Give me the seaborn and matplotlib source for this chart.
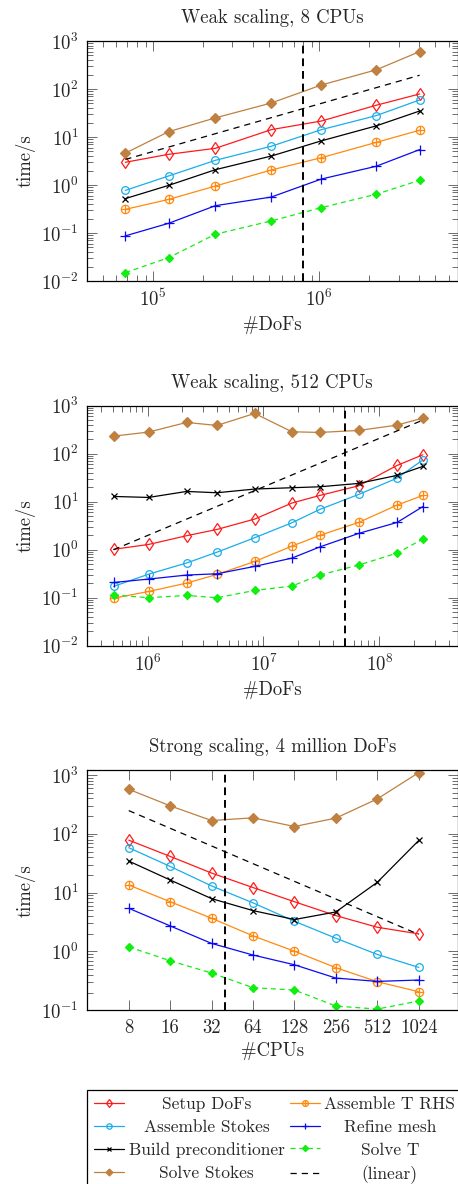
import matplotlib
matplotlib.use("Agg")
import numpy as np
import pandas as pd
import matplotlib.pyplot as plt
import seaborn as sns
from matplotlib.path import Path
from matplotlib.ticker import NullFormatter, NullLocator

# ------------------------------
# Data
# ------------------------------
series = ["Setup DoFs", "Assemble Stokes", "Build preconditioner", "Solve Stokes",
          "Assemble T RHS", "Refine mesh", "Solve T"]

# Weak scaling, 8 CPUs
w8_dofs = [6.8e4, 1.24e5, 2.37e5, 5.14e5, 1.03e6, 2.2e6, 4.02e6]
w8_setup = [2.97, 4.35, 5.8, 14.2, 21.5, 45.7, 78.7]
w8_asm_stokes = [0.77, 1.54, 3.26, 6.4, 14.2, 27.8, 59]
w8_precond = [0.52, 0.98, 2.08, 4.0, 8.3, 17, 34.7]
w8_solve_stokes = [4.6, 12.9, 25, 51, 121, 250, 600]
w8_asm_rhs = [0.31, 0.50, 0.95, 2.05, 3.7, 7.7, 13.8]
w8_refine = [0.087, 0.159, 0.37, 0.56, 1.33, 2.45, 5.45]
w8_solve_t = [0.0149, 0.0306, 0.094, 0.178, 0.337, 0.64, 1.25]
w8_linear_x = [6.8e4, 4.02e6]
w8_linear_t = [3.4, 193]
w8_mark = 8.0e5

# Weak scaling, 512 CPUs
w512_dofs = [5.08e5, 1.02e6, 2.17e6, 3.97e6, 8.4e6, 1.76e7, 3.05e7, 6.63e7, 1.42e8, 2.37e8]
w512_setup = [1.02, 1.29, 1.96, 2.65, 4.36, 9.4, 13.5, 21.5, 57, 95]
w512_asm_stokes = [0.172, 0.31, 0.53, 0.89, 1.78, 3.65, 6.9, 14.2, 31, 74]
w512_precond = [12.9, 12.3, 16.4, 15.4, 18.4, 19.6, 20.5, 24.1, 35.4, 54.5]
w512_solve_stokes = [233, 283, 449, 389, 692, 287, 278, 306, 395, 553]
w512_asm_rhs = [0.098, 0.135, 0.202, 0.306, 0.57, 1.19, 1.99, 3.71, 8.5, 13.5]
w512_refine = [0.208, 0.245, 0.297, 0.316, 0.45, 0.67, 1.14, 2.19, 3.7, 7.9]
w512_solve_t = [0.115, 0.10, 0.112, 0.10, 0.142, 0.175, 0.297, 0.48, 0.85, 1.67]
w512_linear_x = [5.08e5, 2.37e8]
w512_linear_t = [1.0, 502]
w512_mark = 5.1e7

# Strong scaling, 4 million DoFs
s_cpus = [8, 16, 32, 64, 128, 256, 512, 1024]
s_setup = [78, 41.3, 21.5, 12.2, 7.0, 4.07, 2.58, 1.99]
s_asm_stokes = [58, 27.9, 13, 6.7, 3.26, 1.68, 0.89, 0.536]
s_precond = [34.4, 16.4, 7.9, 4.95, 3.49, 4.7, 15, 77]
s_solve_stokes = [571, 299, 168, 187, 133, 185, 392, 1097]
s_asm_rhs = [13.5, 7.0, 3.67, 1.84, 1.01, 0.53, 0.306, 0.207]
s_refine = [5.42, 2.72, 1.37, 0.87, 0.594, 0.353, 0.31, 0.327]
s_solve_t = [1.2, 0.695, 0.43, 0.242, 0.221, 0.118, 0.105, 0.144]
s_linear_x = [8, 1024]
s_linear_t = [248, 1.95]
s_mark = 40

# ------------------------------
# Styles
# ------------------------------
sns.set_theme(style="ticks")
plt.rcParams.update({
    "font.family": "serif",
    "font.serif": ["cmr10"],
    "mathtext.fontset": "cm",
    "axes.formatter.use_mathtext": True,
    "axes.unicode_minus": False,
    "font.size": 13.5,
})

# circle with a plus inside (pgfplots "oplus")
circ = Path.unit_circle()
plus = Path([(-1, 0), (1, 0), (0, -1), (0, 1)],
            [Path.MOVETO, Path.LINETO, Path.MOVETO, Path.LINETO])
oplus = Path.make_compound_path(circ, plus)

styles = {
    "Setup DoFs": dict(color="#FF1A1A", marker="d", markersize=6.5, markerfacecolor="none"),
    "Assemble Stokes": dict(color="#19AEEA", marker="o", markersize=5.5, markerfacecolor="none"),
    "Build preconditioner": dict(color="black", marker="x", markersize=4.5),
    "Solve Stokes": dict(color="#BF8040", marker="D", markersize=5),
    "Assemble T RHS": dict(color="#FF8A10", marker=oplus, markersize=6, markerfacecolor="none"),
    "Refine mesh": dict(color="#0A0AF0", marker="+", markersize=6.5),
    "Solve T": dict(color="#11EE11", marker="D", markersize=4.5, linestyle=(0, (4, 3))),
}

panels = [
    ("Weak scaling, 8 CPUs", "#DoFs", w8_dofs,
     [w8_setup, w8_asm_stokes, w8_precond, w8_solve_stokes, w8_asm_rhs, w8_refine, w8_solve_t],
     w8_linear_x, w8_linear_t, w8_mark, (4.0e4, 6.8e6), (1e-2, 1e3)),
    ("Weak scaling, 512 CPUs", "#DoFs", w512_dofs,
     [w512_setup, w512_asm_stokes, w512_precond, w512_solve_stokes, w512_asm_rhs, w512_refine, w512_solve_t],
     w512_linear_x, w512_linear_t, w512_mark, (3.0e5, 4.73e8), (1e-2, 1e3)),
    ("Strong scaling, 4 million DoFs", "#CPUs", s_cpus,
     [s_setup, s_asm_stokes, s_precond, s_solve_stokes, s_asm_rhs, s_refine, s_solve_t],
     s_linear_x, s_linear_t, s_mark, (3.98, 1960), (0.1, 1.2e3)),
]

fig = plt.figure(figsize=(4.58, 11.84), dpi=100)
bottoms = [0.7627, 0.4546, 0.1467]

for i, (title, xlabel, xs, ys_list, lx, lt, mark, xlim, ylim) in enumerate(panels):
    ax = fig.add_axes([0.19, bottoms[i], 0.809, 0.2027])
    ax.set_yscale("log")
    if i < 2:
        ax.set_xscale("log")
    else:
        ax.set_xscale("log", base=2)

    for name, ys in zip(series, ys_list):
        st = dict(styles[name])
        sns.lineplot(x=xs, y=ys, ax=ax, label=name, linewidth=0.9,
                     markeredgecolor=st["color"], markeredgewidth=0.9, **st)
    sns.lineplot(x=lx, y=lt, ax=ax, label="(linear)", color="black",
                 linewidth=0.9, linestyle=(0, (5, 4)))
    ax.axvline(mark, color="black", linewidth=1.4, linestyle=(0, (4, 2.5)))

    ax.set_xlim(*xlim)
    ax.set_ylim(*ylim)
    if i == 2:
        ax.set_xticks(s_cpus)
        ax.set_xticklabels([str(c) for c in s_cpus])
        ax.xaxis.set_minor_locator(NullLocator())
    ax.xaxis.set_minor_formatter(NullFormatter())
    ax.yaxis.set_minor_formatter(NullFormatter())

    ax.tick_params(which="both", direction="in", top=True, right=True,
                   color="#555555", width=0.6, labelsize=13.5, pad=6)
    ax.tick_params(which="major", length=7)
    ax.tick_params(which="minor", length=4)
    for sp in ax.spines.values():
        sp.set_color("black")
        sp.set_linewidth(0.9)

    ax.set_title(title, fontsize=13.5, pad=13)
    ax.set_xlabel(xlabel, fontsize=13.5, labelpad=4)
    ax.set_ylabel("time/s", fontsize=13.5, labelpad=4)

    handles, labels = ax.get_legend_handles_labels()
    ax.get_legend().remove()

leg = fig.legend(handles, labels, ncol=2, loc="upper left",
                 bbox_to_anchor=(87 / 458, 1 - 1090 / 1184), borderaxespad=0,
                 fontsize=12.5, frameon=True, fancybox=False, edgecolor="black",
                 framealpha=1, handlelength=1.75, handletextpad=0.25,
                 columnspacing=0.3, labelspacing=0.42, borderpad=0.4,
                 markerscale=0.7)
leg.get_frame().set_linewidth(0.9)

# center the legend texts inside their column, as pgfplots does
fig.canvas.draw()
texts = leg.get_texts()
for col in (texts[:4], texts[4:]):
    widths = [t.get_window_extent().width for t in col]
    for t, w in zip(col, widths):
        t.set_x((max(widths) - w) / 2)

fig.savefig("out.png", dpi=100)
